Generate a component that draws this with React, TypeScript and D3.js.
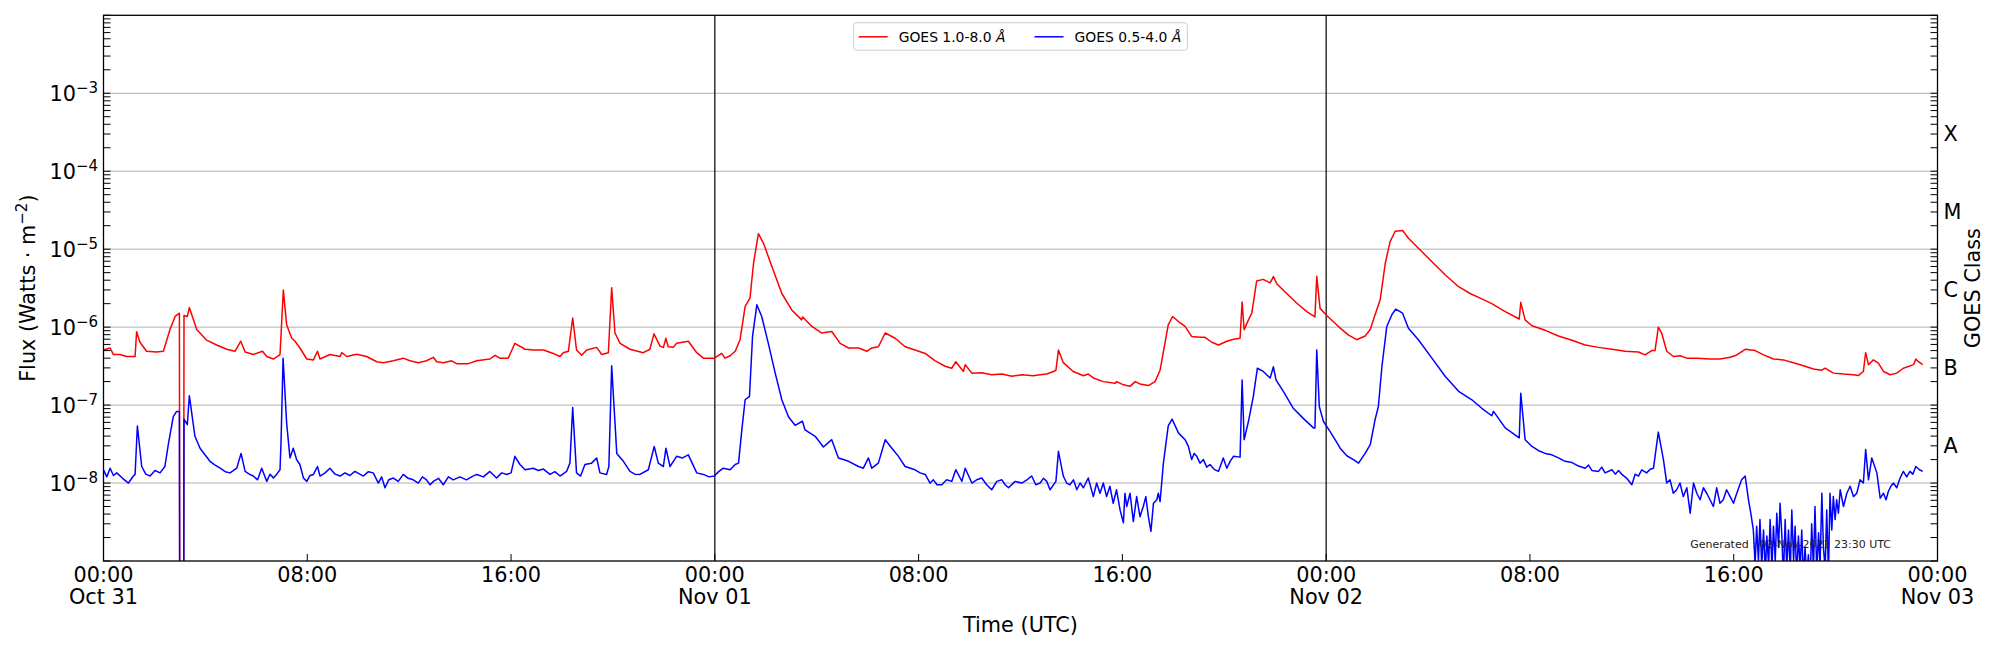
import React from 'react';
import * as d3 from 'd3';

// GOES XRS flux, 2021-10-31 00:00 UTC to 2021-11-02 23:25 UTC
// each point: [hours since Oct 31 00:00 UTC, flux in W m^-2]
const START = Date.UTC(2021, 9, 31);
const HOUR = 3600 * 1000;

// 1.0-8.0 Å channel (the 1e-12 points are the data dropout just after 03:00)
const xrsbFlux: [number, number][] = [
  [0.0, 5.1e-7], [0.26, 5.4e-7], [0.39, 4.45e-7], [0.65, 4.45e-7], [0.91, 4.2e-7], [1.24, 4.2e-7],
  [1.3, 8.7e-7], [1.43, 6.4e-7], [1.69, 4.9e-7], [2.09, 4.8e-7], [2.35, 4.9e-7], [2.61, 9.3e-7],
  [2.81, 1.37e-6], [2.98, 1.51e-6], [3.0, 1e-12], [3.14, 1e-12], [3.16, 1.41e-6], [3.29, 1.37e-6],
  [3.37, 1.78e-6], [3.66, 9.3e-7], [4.05, 6.8e-7], [4.44, 5.9e-7], [4.84, 5.2e-7], [5.16, 4.9e-7],
  [5.39, 6.6e-7], [5.56, 4.8e-7], [5.88, 4.45e-7], [6.24, 4.9e-7], [6.41, 4.2e-7], [6.67, 3.9e-7],
  [6.93, 4.45e-7], [7.06, 3.0e-6], [7.19, 1.07e-6], [7.39, 7.2e-7], [7.52, 6.6e-7], [7.71, 5.4e-7],
  [7.98, 3.9e-7], [8.24, 3.8e-7], [8.4, 4.9e-7], [8.5, 3.9e-7], [8.89, 4.45e-7], [9.29, 4.2e-7],
  [9.35, 4.7e-7], [9.55, 4.2e-7], [9.94, 4.5e-7], [10.33, 4.2e-7], [10.73, 3.6e-7], [10.99, 3.5e-7],
  [11.38, 3.7e-7], [11.77, 4.0e-7], [12.03, 3.7e-7], [12.36, 3.5e-7], [12.68, 3.7e-7], [12.95, 4.1e-7],
  [13.08, 3.6e-7], [13.34, 3.5e-7], [13.67, 3.7e-7], [13.86, 3.4e-7], [14.32, 3.4e-7], [14.65, 3.7e-7],
  [15.17, 3.9e-7], [15.37, 4.35e-7], [15.56, 4.0e-7], [15.89, 4.0e-7], [16.15, 6.2e-7], [16.55, 5.2e-7],
  [16.87, 5.1e-7], [17.27, 5.1e-7], [17.66, 4.6e-7], [17.92, 4.2e-7], [18.05, 4.7e-7], [18.25, 4.9e-7],
  [18.42, 1.31e-6], [18.57, 5.1e-7], [18.77, 4.35e-7], [18.97, 5.1e-7], [19.36, 5.5e-7], [19.56, 4.45e-7],
  [19.82, 4.7e-7], [19.95, 3.2e-6], [20.08, 8.4e-7], [20.28, 6.2e-7], [20.67, 5.2e-7], [21.19, 4.7e-7],
  [21.45, 5.2e-7], [21.61, 8.2e-7], [21.85, 5.7e-7], [21.98, 5.5e-7], [22.08, 7.2e-7], [22.17, 5.6e-7],
  [22.37, 5.5e-7], [22.5, 6.2e-7], [22.96, 6.6e-7], [23.29, 4.7e-7], [23.55, 4.0e-7], [23.98, 4.0e-7],
  [24.27, 4.6e-7], [24.4, 4.0e-7], [24.6, 4.3e-7], [24.8, 4.9e-7], [24.99, 6.9e-7], [25.19, 1.84e-6],
  [25.38, 2.35e-6], [25.52, 6.6e-6], [25.71, 1.58e-5], [25.91, 1.19e-5], [26.24, 6.0e-6], [26.63, 2.7e-6],
  [27.02, 1.66e-6], [27.41, 1.24e-6], [27.45, 1.35e-6], [27.81, 1.02e-6], [28.2, 8.4e-7], [28.59, 8.8e-7],
  [28.92, 6.2e-7], [29.25, 5.4e-7], [29.64, 5.4e-7], [29.97, 4.9e-7], [30.16, 5.4e-7], [30.42, 5.6e-7],
  [30.69, 8.4e-7], [31.08, 7.2e-7], [31.47, 5.6e-7], [31.86, 5.1e-7], [32.26, 4.6e-7], [32.65, 3.7e-7],
  [33.04, 3.15e-7], [33.3, 2.97e-7], [33.46, 3.6e-7], [33.76, 2.7e-7], [33.83, 3.3e-7], [34.09, 2.57e-7],
  [34.48, 2.6e-7], [34.87, 2.45e-7], [35.27, 2.5e-7], [35.66, 2.34e-7], [36.05, 2.45e-7], [36.51, 2.38e-7],
  [36.77, 2.45e-7], [37.03, 2.5e-7], [37.29, 2.7e-7], [37.39, 2.8e-7], [37.49, 5.1e-7], [37.68, 3.5e-7],
  [38.07, 2.7e-7], [38.47, 2.38e-7], [38.66, 2.5e-7], [38.86, 2.23e-7], [39.25, 2.0e-7], [39.71, 1.9e-7],
  [39.78, 2.0e-7], [40.04, 1.82e-7], [40.3, 1.74e-7], [40.5, 2.0e-7], [40.69, 1.87e-7], [41.02, 1.78e-7],
  [41.28, 2.0e-7], [41.48, 2.8e-7], [41.67, 6.2e-7], [41.8, 1.07e-6], [41.97, 1.37e-6], [42.2, 1.18e-6],
  [42.46, 1.02e-6], [42.72, 7.6e-7], [43.05, 7.4e-7], [43.24, 7.4e-7], [43.51, 6.4e-7], [43.77, 5.9e-7],
  [44.1, 6.6e-7], [44.36, 7.0e-7], [44.62, 7.2e-7], [44.7, 2.1e-6], [44.78, 9.3e-7], [44.95, 1.24e-6],
  [45.08, 1.51e-6], [45.27, 3.9e-6], [45.53, 4.1e-6], [45.8, 3.7e-6], [45.93, 4.45e-6], [46.06, 3.6e-6],
  [46.45, 2.7e-6], [46.84, 2.04e-6], [47.24, 1.58e-6], [47.56, 1.35e-6], [47.63, 4.5e-6], [47.76, 1.74e-6],
  [48.02, 1.41e-6], [48.35, 1.12e-6], [48.55, 9.7e-7], [48.88, 7.9e-7], [49.2, 6.9e-7], [49.53, 7.7e-7],
  [49.73, 9.3e-7], [49.92, 1.44e-6], [50.12, 2.24e-6], [50.32, 6.6e-6], [50.51, 1.25e-5], [50.71, 1.7e-5],
  [51.0, 1.74e-5], [51.23, 1.38e-5], [51.62, 1.03e-5], [52.15, 6.9e-6], [52.67, 4.7e-6], [53.2, 3.3e-6],
  [53.65, 2.7e-6], [54.11, 2.3e-6], [54.5, 2.0e-6], [55.03, 1.58e-6], [55.58, 1.27e-6], [55.64, 2.08e-6],
  [55.81, 1.24e-6], [56.08, 1.04e-6], [56.6, 9.1e-7], [57.12, 7.7e-7], [57.65, 6.8e-7], [58.17, 5.9e-7],
  [58.69, 5.5e-7], [59.22, 5.2e-7], [59.74, 4.9e-7], [60.26, 4.8e-7], [60.52, 4.4e-7], [60.78, 5.0e-7],
  [60.91, 5.0e-7], [61.04, 1.0e-6], [61.17, 8.4e-7], [61.37, 4.9e-7], [61.63, 4.2e-7], [61.89, 4.3e-7],
  [62.16, 4.0e-7], [62.55, 4.0e-7], [63.07, 3.9e-7], [63.46, 3.9e-7], [63.86, 4.1e-7], [64.12, 4.4e-7],
  [64.45, 5.2e-7], [64.84, 5.0e-7], [65.17, 4.4e-7], [65.56, 3.9e-7], [65.95, 3.8e-7], [66.34, 3.5e-7],
  [66.74, 3.2e-7], [67.13, 2.9e-7], [67.46, 2.8e-7], [67.59, 2.97e-7], [67.91, 2.57e-7], [68.31, 2.5e-7],
  [68.7, 2.45e-7], [68.9, 2.4e-7], [69.09, 2.7e-7], [69.18, 4.7e-7], [69.29, 3.3e-7], [69.48, 3.8e-7],
  [69.68, 3.45e-7], [69.88, 2.7e-7], [70.14, 2.45e-7], [70.4, 2.57e-7], [70.66, 2.97e-7], [71.06, 3.3e-7],
  [71.15, 3.9e-7], [71.25, 3.6e-7], [71.42, 3.3e-7],
];

// 0.5-4.0 Å channel
const xrsaFlux: [number, number][] = [
  [0.0, 1.48e-8], [0.13, 1.2e-8], [0.26, 1.55e-8], [0.39, 1.25e-8], [0.52, 1.35e-8], [0.75, 1.15e-8],
  [0.98, 1.0e-8], [1.17, 1.23e-8], [1.24, 1.29e-8], [1.33, 5.4e-8], [1.5, 1.63e-8], [1.66, 1.3e-8],
  [1.83, 1.23e-8], [2.02, 1.45e-8], [2.22, 1.35e-8], [2.41, 1.63e-8], [2.55, 3.2e-8], [2.74, 7.1e-8],
  [2.87, 8.3e-8], [2.98, 8.3e-8], [3.0, 1e-12], [3.14, 1e-12], [3.16, 6.6e-8], [3.29, 5.6e-8],
  [3.37, 1.32e-7], [3.59, 3.98e-8], [3.79, 2.8e-8], [4.18, 1.9e-8], [4.38, 1.7e-8], [4.58, 1.55e-8],
  [4.78, 1.4e-8], [4.97, 1.35e-8], [5.23, 1.55e-8], [5.4, 2.4e-8], [5.56, 1.41e-8], [5.72, 1.3e-8],
  [5.88, 1.23e-8], [6.05, 1.1e-8], [6.21, 1.55e-8], [6.41, 1.05e-8], [6.54, 1.3e-8], [6.67, 1.16e-8],
  [6.8, 1.3e-8], [6.93, 1.48e-8], [6.97, 3.4e-8], [7.05, 4.0e-7], [7.19, 5.9e-8], [7.32, 2.1e-8],
  [7.45, 2.8e-8], [7.58, 2.0e-8], [7.71, 1.73e-8], [7.85, 1.16e-8], [7.98, 1.05e-8], [8.11, 1.25e-8],
  [8.24, 1.29e-8], [8.4, 1.63e-8], [8.5, 1.23e-8], [8.7, 1.35e-8], [8.89, 1.55e-8], [9.09, 1.3e-8],
  [9.29, 1.23e-8], [9.48, 1.35e-8], [9.67, 1.25e-8], [9.87, 1.41e-8], [10.2, 1.23e-8], [10.4, 1.4e-8],
  [10.59, 1.35e-8], [10.79, 1.0e-8], [10.92, 1.2e-8], [11.05, 8.7e-9], [11.2, 1.1e-8], [11.38, 1.16e-8],
  [11.57, 1.05e-8], [11.77, 1.29e-8], [11.96, 1.15e-8], [12.16, 1.1e-8], [12.36, 1.0e-8], [12.52, 1.2e-8],
  [12.68, 1.1e-8], [12.82, 9.5e-9], [12.95, 1.05e-8], [13.15, 1.15e-8], [13.34, 9.5e-9], [13.54, 1.2e-8],
  [13.73, 1.1e-8], [13.99, 1.2e-8], [14.25, 1.1e-8], [14.45, 1.2e-8], [14.65, 1.29e-8], [14.91, 1.2e-8],
  [15.17, 1.41e-8], [15.43, 1.16e-8], [15.63, 1.35e-8], [15.83, 1.29e-8], [16.0, 1.35e-8], [16.15, 2.2e-8],
  [16.35, 1.73e-8], [16.55, 1.48e-8], [16.87, 1.55e-8], [17.07, 1.45e-8], [17.27, 1.51e-8], [17.53, 1.29e-8],
  [17.72, 1.4e-8], [17.92, 1.23e-8], [18.18, 1.41e-8], [18.31, 1.8e-8], [18.42, 9.3e-8], [18.57, 1.35e-8],
  [18.73, 1.23e-8], [18.9, 1.73e-8], [19.16, 1.8e-8], [19.36, 2.1e-8], [19.49, 1.35e-8], [19.75, 1.29e-8],
  [19.84, 1.63e-8], [19.95, 3.2e-7], [20.15, 2.4e-8], [20.41, 1.9e-8], [20.67, 1.41e-8], [20.86, 1.3e-8],
  [21.06, 1.29e-8], [21.39, 1.48e-8], [21.62, 2.95e-8], [21.78, 1.8e-8], [21.98, 1.63e-8], [22.08, 2.8e-8],
  [22.24, 1.63e-8], [22.5, 2.2e-8], [22.73, 2.1e-8], [22.96, 2.3e-8], [23.29, 1.35e-8], [23.55, 1.29e-8],
  [23.77, 1.2e-8], [23.98, 1.23e-8], [24.15, 1.4e-8], [24.33, 1.55e-8], [24.6, 1.48e-8], [24.8, 1.73e-8],
  [24.93, 1.8e-8], [25.06, 4.8e-8], [25.19, 1.17e-7], [25.36, 1.29e-7], [25.48, 7.6e-7], [25.65, 1.94e-6],
  [25.84, 1.37e-6], [26.1, 6.2e-7], [26.37, 2.57e-7], [26.63, 1.17e-7], [26.89, 7.1e-8], [27.15, 5.5e-8],
  [27.44, 6.2e-8], [27.54, 4.8e-8], [27.94, 3.98e-8], [28.26, 2.9e-8], [28.59, 3.6e-8], [28.85, 2.1e-8],
  [29.05, 2.0e-8], [29.25, 1.9e-8], [29.64, 1.63e-8], [29.83, 1.55e-8], [30.03, 2.1e-8], [30.16, 1.55e-8],
  [30.42, 1.8e-8], [30.69, 3.6e-8], [30.95, 2.8e-8], [31.21, 2.2e-8], [31.47, 1.63e-8], [31.86, 1.48e-8],
  [32.06, 1.35e-8], [32.26, 1.29e-8], [32.45, 1.0e-8], [32.58, 1.1e-8], [32.72, 9.5e-9], [32.91, 9.5e-9],
  [33.1, 1.1e-8], [33.3, 1.05e-8], [33.46, 1.48e-8], [33.7, 1.05e-8], [33.83, 1.55e-8], [34.09, 1.0e-8],
  [34.28, 1.1e-8], [34.48, 1.16e-8], [34.67, 9.5e-9], [34.87, 8.2e-9], [35.07, 1.05e-8], [35.27, 1.1e-8],
  [35.4, 9.5e-9], [35.53, 8.7e-9], [35.79, 1.05e-8], [36.05, 1.0e-8], [36.25, 1.1e-8], [36.44, 1.23e-8],
  [36.6, 9.5e-9], [36.77, 1.0e-8], [36.9, 1.15e-8], [37.03, 1.05e-8], [37.16, 8.2e-9], [37.39, 1.05e-8],
  [37.49, 2.55e-8], [37.68, 1.23e-8], [37.81, 1.0e-8], [37.94, 9.5e-9], [38.08, 1.1e-8], [38.21, 8.2e-9],
  [38.34, 1.0e-8], [38.47, 8.7e-9], [38.66, 1.16e-8], [38.86, 6.7e-9], [38.99, 1.0e-8], [39.12, 7.4e-9],
  [39.25, 1.0e-8], [39.38, 6.7e-9], [39.51, 9.1e-9], [39.64, 5.5e-9], [39.77, 8.2e-9], [39.91, 4.5e-9],
  [40.04, 3.1e-9], [40.1, 7.4e-9], [40.17, 5.0e-9], [40.3, 7.4e-9], [40.43, 3.2e-9], [40.56, 6.7e-9],
  [40.69, 3.7e-9], [40.82, 5.0e-9], [40.92, 6.7e-9], [41.02, 3.7e-9], [41.12, 2.4e-9], [41.22, 5.5e-9],
  [41.35, 6.1e-9], [41.41, 7.4e-9], [41.48, 5.8e-9], [41.61, 1.8e-8], [41.8, 5.4e-8], [41.95, 6.6e-8],
  [42.2, 4.4e-8], [42.46, 3.6e-8], [42.59, 2.95e-8], [42.72, 2.0e-8], [42.82, 2.4e-8], [42.92, 2.2e-8],
  [43.05, 1.8e-8], [43.18, 2.0e-8], [43.31, 1.6e-8], [43.44, 1.73e-8], [43.6, 1.5e-8], [43.77, 1.41e-8],
  [43.96, 2.1e-8], [44.1, 1.55e-8], [44.23, 1.9e-8], [44.36, 2.2e-8], [44.62, 2.15e-8], [44.7, 2.1e-7],
  [44.78, 3.6e-8], [44.95, 6.2e-8], [45.14, 1.29e-7], [45.3, 2.97e-7], [45.53, 2.7e-7], [45.8, 2.23e-7],
  [45.93, 3.1e-7], [46.03, 2.1e-7], [46.32, 1.5e-7], [46.71, 9.1e-8], [47.11, 6.7e-8], [47.5, 5.1e-8],
  [47.56, 5.1e-8], [47.63, 5.1e-7], [47.73, 9.6e-8], [47.89, 6.2e-8], [48.15, 4.6e-8], [48.35, 3.6e-8],
  [48.55, 2.8e-8], [48.81, 2.24e-8], [49.07, 2.0e-8], [49.27, 1.8e-8], [49.53, 2.4e-8], [49.73, 3.1e-8],
  [49.92, 6.5e-8], [50.05, 9.6e-8], [50.19, 3.15e-7], [50.38, 1.02e-6], [50.58, 1.44e-6], [50.73, 1.7e-6],
  [51.0, 1.51e-6], [51.23, 9.7e-7], [51.62, 6.9e-7], [52.15, 4.0e-7], [52.67, 2.34e-7], [53.2, 1.5e-7],
  [53.72, 1.17e-7], [54.11, 9.1e-8], [54.5, 7.3e-8], [54.57, 8.3e-8], [55.03, 5.1e-8], [55.58, 3.8e-8],
  [55.64, 1.42e-7], [55.81, 3.6e-8], [56.08, 2.95e-8], [56.34, 2.6e-8], [56.6, 2.4e-8], [56.86, 2.3e-8],
  [57.12, 2.1e-8], [57.38, 1.9e-8], [57.65, 1.83e-8], [57.91, 1.65e-8], [58.17, 1.55e-8], [58.3, 1.7e-8],
  [58.43, 1.45e-8], [58.69, 1.41e-8], [58.82, 1.6e-8], [58.95, 1.35e-8], [59.22, 1.48e-8], [59.35, 1.3e-8],
  [59.48, 1.45e-8], [59.61, 1.29e-8], [59.8, 1.15e-8], [60.0, 9.5e-9], [60.13, 1.3e-8], [60.26, 1.23e-8],
  [60.39, 1.48e-8], [60.58, 1.35e-8], [60.72, 1.5e-8], [60.85, 1.55e-8], [61.04, 4.5e-8], [61.24, 2.0e-8],
  [61.37, 1.0e-8], [61.5, 1.1e-8], [61.63, 7.4e-9], [61.76, 8.2e-9], [61.89, 1.0e-8], [62.02, 6.7e-9],
  [62.16, 8.7e-9], [62.29, 4.1e-9], [62.42, 1.0e-8], [62.55, 7.4e-9], [62.68, 6.1e-9], [62.81, 8.7e-9],
  [62.94, 7.4e-9], [63.07, 6.1e-9], [63.2, 5.0e-9], [63.33, 8.7e-9], [63.46, 5.5e-9], [63.59, 6.1e-9],
  [63.72, 8.2e-9], [63.86, 6.7e-9], [63.99, 5.5e-9], [64.12, 7.4e-9], [64.31, 1.1e-8], [64.45, 1.23e-8],
  [64.58, 6.1e-9], [64.67, 4.1e-9], [64.77, 2.5e-9], [64.84, 9e-10], [64.9, 2.8e-9], [64.97, 1.0e-9],
  [65.03, 3.4e-9], [65.1, 8.5e-10], [65.17, 2.5e-9], [65.24, 7e-10], [65.3, 2.1e-9], [65.37, 9e-10],
  [65.43, 3.4e-9], [65.5, 8e-10], [65.56, 2.8e-9], [65.63, 1.0e-9], [65.69, 4.1e-9], [65.76, 1.5e-9],
  [65.82, 5.5e-9], [65.89, 2.1e-9], [65.95, 6e-10], [66.02, 3.4e-9], [66.08, 8e-10], [66.15, 2.5e-9],
  [66.22, 7e-10], [66.28, 4.5e-9], [66.35, 1.0e-9], [66.41, 2.8e-9], [66.47, 6e-10], [66.54, 2.1e-9],
  [66.61, 8e-10], [66.67, 2.5e-9], [66.74, 5.7e-10], [66.8, 1.5e-9], [66.87, 6e-10], [66.93, 1.2e-9],
  [67.0, 5e-10], [67.06, 3.0e-9], [67.13, 8e-10], [67.19, 5.0e-9], [67.26, 7e-10], [67.33, 2.3e-9],
  [67.39, 9e-10], [67.46, 7.4e-9], [67.52, 1.5e-9], [67.59, 8e-10], [67.65, 4.5e-9], [67.72, 7e-10],
  [67.78, 7.4e-9], [67.85, 2.5e-9], [67.91, 6.7e-9], [67.98, 3.4e-9], [68.04, 6.1e-9], [68.11, 4.1e-9],
  [68.18, 8.2e-9], [68.31, 5.0e-9], [68.44, 7.4e-9], [68.57, 9.1e-9], [68.7, 6.7e-9], [68.83, 7.4e-9],
  [68.96, 1.1e-8], [69.09, 1.0e-8], [69.18, 2.7e-8], [69.29, 1.1e-8], [69.42, 2.1e-8], [69.62, 1.35e-8],
  [69.75, 6.4e-9], [69.88, 7.4e-9], [69.98, 6.1e-9], [70.07, 7.8e-9], [70.17, 9.1e-9], [70.27, 1.0e-8],
  [70.4, 8.7e-9], [70.53, 1.16e-8], [70.66, 1.41e-8], [70.79, 1.2e-8], [70.92, 1.41e-8], [71.03, 1.3e-8],
  [71.15, 1.63e-8], [71.29, 1.48e-8], [71.42, 1.41e-8],
];

const seriesLabels = ['GOES 1.0-8.0 ', 'GOES 0.5-4.0 '];
const seriesColors = ['#ff0000', '#0000ff'];
const yTickExponents = [-3, -4, -5, -6, -7, -8];
const xTickHours = [0, 8, 16, 24, 32, 40, 48, 56, 64, 72];
const dayLineHours = [24, 48];
const goesClasses = ['A', 'B', 'C', 'M', 'X'];
const goesClassFloor = [1e-8, 1e-7, 1e-6, 1e-5, 1e-4];
const generatedText = 'Generated : 02-Nov-2021 23:30 UTC';

const W = 2000;
const H = 650;
const margin = { top: 15.3, right: 62.5, bottom: 89, left: 103.5 };
const FONT = '"DejaVu Sans", Verdana, sans-serif';

const App: React.FC = () => {
  const svgRef = React.useRef<SVGSVGElement>(null);

  React.useEffect(() => {
    const svg = d3.select(svgRef.current);
    svg.selectAll('*').remove();
    svg.style('font-family', FONT);

    const left = margin.left;
    const right = W - margin.right;
    const top = margin.top;
    const bottom = H - margin.bottom;
    const toDate = (h: number) => new Date(START + h * HOUR);

    const x = d3.scaleUtc().domain([toDate(0), toDate(72)]).range([left, right]);
    const y = d3.scaleLog().domain([1e-9, 1e-2]).range([bottom, top]);

    svg.append('rect').attr('width', W).attr('height', H).attr('fill', '#fff');

    svg
      .append('defs')
      .append('clipPath')
      .attr('id', 'plot-area')
      .append('rect')
      .attr('x', left)
      .attr('y', top)
      .attr('width', right - left)
      .attr('height', bottom - top);

    // horizontal grid at each decade
    svg
      .append('g')
      .selectAll('line')
      .data(yTickExponents)
      .join('line')
      .attr('x1', left)
      .attr('x2', right)
      .attr('y1', (e) => y(Math.pow(10, e)))
      .attr('y2', (e) => y(Math.pow(10, e)))
      .attr('stroke', '#b0b0b0')
      .attr('stroke-width', 1);

    // day boundaries
    svg
      .append('g')
      .selectAll('line')
      .data(dayLineHours)
      .join('line')
      .attr('x1', (h) => x(toDate(h)))
      .attr('x2', (h) => x(toDate(h)))
      .attr('y1', top)
      .attr('y2', bottom)
      .attr('stroke', '#000')
      .attr('stroke-width', 1.2);

    const line = d3
      .line<[number, number]>()
      .x((d) => x(toDate(d[0])))
      .y((d) => y(d[1]));

    svg
      .append('g')
      .attr('clip-path', 'url(#plot-area)')
      .selectAll('path')
      .data([xrsbFlux, xrsaFlux])
      .join('path')
      .attr('fill', 'none')
      .attr('stroke', (_, i) => seriesColors[i])
      .attr('stroke-width', 1.5)
      .attr('stroke-linejoin', 'round')
      .attr('d', (d) => line(d));

    // ticks, all pointing inward
    const logTicks = y.ticks();
    const ticks = svg.append('g').attr('stroke', '#000').attr('stroke-width', 1);
    logTicks.forEach((v) => {
      ticks.append('line').attr('x1', left).attr('x2', left + 7).attr('y1', y(v)).attr('y2', y(v));
      ticks.append('line').attr('x1', right - 7).attr('x2', right).attr('y1', y(v)).attr('y2', y(v));
    });
    xTickHours.forEach((h) => {
      ticks
        .append('line')
        .attr('x1', x(toDate(h)))
        .attr('x2', x(toDate(h)))
        .attr('y1', bottom)
        .attr('y2', bottom - 7);
    });

    svg
      .append('rect')
      .attr('x', left)
      .attr('y', top)
      .attr('width', right - left)
      .attr('height', bottom - top)
      .attr('fill', 'none')
      .attr('stroke', '#000')
      .attr('stroke-width', 1.3);

    // y tick labels 10^n
    yTickExponents.forEach((e) => {
      const t = svg
        .append('text')
        .attr('x', left - 5.5)
        .attr('y', y(Math.pow(10, e)) + 8)
        .attr('text-anchor', 'end')
        .attr('font-size', 20.8)
        .attr('fill', '#000');
      t.append('tspan').text('10');
      t.append('tspan').attr('dy', -8.5).attr('font-size', 15).text(`\u2212${Math.abs(e)}`);
    });

    // x tick labels
    const fmtTime = d3.utcFormat('%H:%M');
    const fmtDay = d3.utcFormat('%b %d');
    xTickHours.forEach((h) => {
      const d = toDate(h);
      svg
        .append('text')
        .attr('x', x(d))
        .attr('y', bottom + 20.7)
        .attr('text-anchor', 'middle')
        .attr('font-size', 20.8)
        .text(fmtTime(d));
      if (h % 24 === 0) {
        svg
          .append('text')
          .attr('x', x(d))
          .attr('y', bottom + 43)
          .attr('text-anchor', 'middle')
          .attr('font-size', 20.8)
          .text(fmtDay(d));
      }
    });

    // GOES class letters on the right
    goesClasses.forEach((c, i) => {
      svg
        .append('text')
        .attr('x', right + 6)
        .attr('y', y(goesClassFloor[i] * Math.sqrt(10)))
        .attr('dy', '0.42em')
        .attr('font-size', 20.8)
        .text(c);
    });

    // axis titles
    const yTitle = svg
      .append('text')
      .attr('transform', `translate(35,${(top + bottom) / 2}) rotate(-90)`)
      .attr('text-anchor', 'middle')
      .attr('font-size', 20.8);
    yTitle.append('tspan').text('Flux (Watts \u00b7 m');
    yTitle.append('tspan').attr('dy', -8).attr('font-size', 15).text('\u22122');
    yTitle.append('tspan').attr('dy', 8).text(')');

    svg
      .append('text')
      .attr('transform', `translate(1980,${(top + bottom) / 2}) rotate(-90)`)
      .attr('text-anchor', 'middle')
      .attr('font-size', 20.8)
      .text('GOES Class');

    svg
      .append('text')
      .attr('x', (left + right) / 2)
      .attr('y', 632)
      .attr('text-anchor', 'middle')
      .attr('font-size', 20.8)
      .text('Time (UTC)');

    svg
      .append('text')
      .attr('x', 1891)
      .attr('y', 548)
      .attr('text-anchor', 'end')
      .attr('font-size', 11)
      .attr('fill', '#222')
      .text(generatedText);

    // legend, upper centre
    const legend = svg.append('g');
    const box = legend
      .append('rect')
      .attr('rx', 3)
      .attr('fill', '#fff')
      .attr('fill-opacity', 0.8)
      .attr('stroke', '#cccccc')
      .attr('stroke-width', 1);
    let cursor = 5;
    const rowY = 36.8;
    seriesLabels.forEach((label, i) => {
      legend
        .append('line')
        .attr('x1', cursor)
        .attr('x2', cursor + 29)
        .attr('y1', rowY)
        .attr('y2', rowY)
        .attr('stroke', seriesColors[i])
        .attr('stroke-width', 1.5);
      const t = legend
        .append('text')
        .attr('x', cursor + 40)
        .attr('y', rowY + 5)
        .attr('font-size', 13.9)
        .attr('xml:space', 'preserve');
      t.append('tspan').text(label);
      t.append('tspan').attr('font-style', 'italic').text('\u00c5');
      const len = (t.node() as SVGTextElement).getComputedTextLength();
      cursor += 40 + len + (i < seriesLabels.length - 1 ? 29 : 6);
    });
    const boxW = cursor;
    box.attr('x', 0).attr('y', 22.7).attr('width', boxW).attr('height', 27.5);
    legend.attr('transform', `translate(${(left + right) / 2 - boxW / 2},0)`);
  }, []);

  return (
    <div style={{ position: 'absolute', left: 0, top: 0 }}>
      <svg ref={svgRef} width={W} height={H} style={{ display: 'block' }} />
    </div>
  );
};

export default App;
